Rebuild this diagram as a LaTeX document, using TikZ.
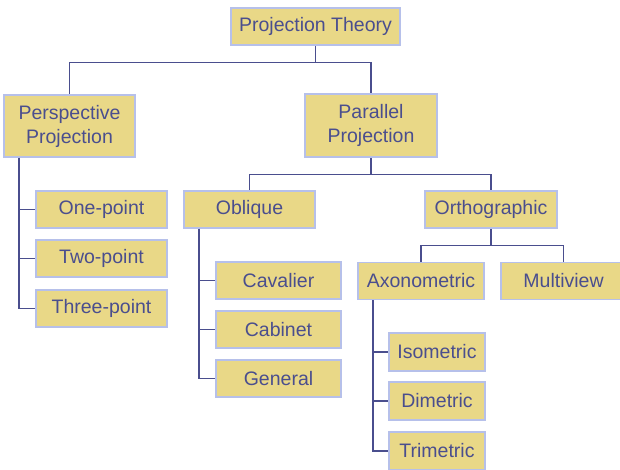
\documentclass[tikz,border=0pt]{standalone}
\usepackage{fontspec}
\setmainfont{Liberation Sans}
\begin{document}
\begin{tikzpicture}[x=1pt,y=1pt,
  box/.style={draw=boxline,line width=1.6pt,fill=boxfill,text=ink,inner sep=0pt,
    minimum height=37pt,align=center,font=\fontsize{19.5}{24}\selectfont},
  conn/.style={draw=ink,line width=1.3pt}]
\definecolor{boxfill}{RGB}{233,216,135}
\definecolor{boxline}{RGB}{182,192,234}
\definecolor{ink}{RGB}{74,78,142}
\useasboundingbox (0,0) rectangle (620,-470);
\fill[white] (0,0) rectangle (620,-470);
\node[box,minimum width=169pt] (theory) at (315.5,-26.5) {Projection Theory};
\node[box,minimum width=131pt,minimum height=62pt] (persp) at (69.5,-126) {Perspective\\Projection};
\node[box,minimum width=132pt,minimum height=63pt] (parallel) at (371,-125.5) {Parallel\\Projection};
\node[box,minimum width=131pt] (onept) at (101.5,-209.5) {One-point};
\node[box,minimum width=131pt] (twopt) at (101.5,-258.5) {Two-point};
\node[box,minimum width=131pt] (threept) at (101.5,-308.5) {Three-point};
\node[box,minimum width=131pt] (oblique) at (249.5,-209.5) {Oblique};
\node[box,minimum width=132pt] (ortho) at (491,-209.5) {Orthographic};
\node[box,minimum width=125pt] (cavalier) at (278.5,-280.5) {Cavalier};
\node[box,minimum width=125pt] (cabinet) at (278.5,-329.5) {Cabinet};
\node[box,minimum width=125pt] (general) at (278.5,-378.5) {General};
\node[box,minimum width=126pt] (axono) at (421,-281) {Axonometric};
\node[box,minimum width=125pt] (multi) at (563.5,-281) {Multiview};
\node[box,minimum width=96pt,minimum height=38pt] (iso) at (437,-352) {Isometric};
\node[box,minimum width=96pt,minimum height=38pt] (dim) at (437,-401) {Dimetric};
\node[box,minimum width=96pt,minimum height=38pt] (tri) at (437,-451) {Trimetric};
% connectors
\draw[conn] (theory.south) -- ++(0,-17) coordinate (j1);
\draw[conn] (j1) -| (persp.north);
\draw[conn] (j1) -| (parallel.north);
\draw[conn] (parallel.south) -- ++(0,-17) coordinate (j2);
\draw[conn] (j2) -| (oblique.north);
\draw[conn] (j2) -| (ortho.north);
\draw[conn] (ortho.south) -- ++(0,-17) coordinate (j3);
\draw[conn] (j3) -| (axono.north);
\draw[conn] (j3) -| (multi.north);
\draw[conn] ([xshift=-50.5pt]persp.south) coordinate (p0) |- (threept.west);
\draw[conn] (p0) |- (onept.west);
\draw[conn] (p0) |- (twopt.west);
\draw[conn] ([xshift=-50.5pt]oblique.south) coordinate (o0) |- (general.west);
\draw[conn] (o0) |- (cavalier.west);
\draw[conn] (o0) |- (cabinet.west);
\draw[conn] ([xshift=-48pt]axono.south) coordinate (a0) |- (tri.west);
\draw[conn] (a0) |- (iso.west);
\draw[conn] (a0) |- (dim.west);
\end{tikzpicture}
\end{document}
